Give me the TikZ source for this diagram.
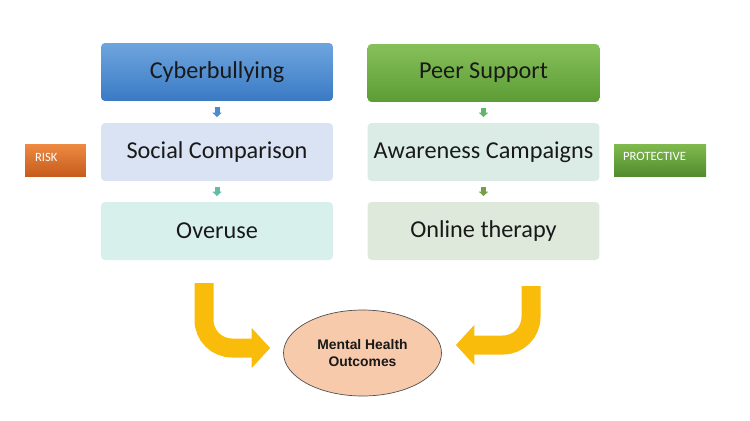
\documentclass[tikz,border=0pt]{standalone}
\usepackage{fontspec}
\setmainfont{Carlito}
\newfontfamily\arialfont{Liberation Sans}
\usetikzlibrary{arrows.meta, positioning, shapes.geometric, calc}

\definecolor{txt}{RGB}{25,25,25}
\definecolor{blueTop}{RGB}{110,165,222}
\definecolor{blueBot}{RGB}{58,122,196}
\definecolor{greenTop}{RGB}{135,192,90}
\definecolor{greenBot}{RGB}{92,156,52}
\definecolor{socialFill}{RGB}{218,227,243}
\definecolor{overuseFill}{RGB}{216,240,236}
\definecolor{awareFill}{RGB}{218,236,229}
\definecolor{onlineFill}{RGB}{222,233,220}
\definecolor{riskTop}{RGB}{238,138,66}
\definecolor{riskBot}{RGB}{198,92,28}
\definecolor{protTop}{RGB}{128,186,78}
\definecolor{protBot}{RGB}{82,140,46}
\definecolor{gold}{RGB}{250,188,10}
\definecolor{peach}{RGB}{247,202,172}

\begin{document}
\begin{tikzpicture}[
    x=0.02cm, y=-0.02cm,
    box/.style={rounded corners=0.08cm, minimum width=4.64cm, minimum height=1.16cm,
                inner sep=0pt, text=txt, font=\fontsize{13.8}{16}\selectfont},
    tag/.style={minimum height=0.64cm, inner sep=0pt},
    tagtext/.style={anchor=west, inner sep=0pt, text=white, font=\fontsize{7.2}{8}\selectfont},
    link/.style={line width=0.1cm, -{Triangle[width=0.18cm,length=0.09cm]},
                 shorten <=0.12cm, shorten >=0.11cm},
    bigarrow/.style={draw=gold, line width=0.38cm, rounded corners=0.56cm,
                     -{Triangle[width=0.78cm,length=0.37cm]}},
]
\useasboundingbox (0,0) rectangle (750,420);

% Risk column
\node[box, top color=blueTop, bottom color=blueBot] (cyber)   at (217,72)  {Cyberbullying};
\node[box, fill=socialFill]                         (social)  at (217,152) {Social Comparison};
\node[box, fill=overuseFill]                        (overuse) at (217,231) {Overuse};

% Protective column
\node[box, top color=greenTop, bottom color=greenBot] (peer)   at (483.5,73)  {Peer Support};
\node[box, fill=awareFill]                            (aware)  at (483.5,152) {Awareness Campaigns};
\node[box, fill=onlineFill]                           (online) at (483.5,231) {Online therapy};

% Side labels
\node[tag, minimum width=1.22cm, top color=riskTop, bottom color=riskBot] (risk) at (55.5,160) {};
\node[tagtext] at ($(risk.west)+(10,-3)$) {RISK};
\node[tag, minimum width=1.84cm, top color=protTop, bottom color=protBot] (prot) at (660,160) {};
\node[tagtext] at ($(prot.west)+(9,-4)$) {PROTECTIVE};

% Small arrows between boxes
\draw[link, draw={rgb,255:red,78;green,138;blue,208}]  (cyber)  -- (social);
\draw[link, draw={rgb,255:red,96;green,190;blue,168}]  (social) -- (overuse);
\draw[link, draw={rgb,255:red,98;green,182;blue,108}]  (peer)   -- (aware);
\draw[link, draw={rgb,255:red,118;green,158;blue,76}]  (aware)  -- (online);

% Outcome
\node[ellipse, draw={rgb,255:red,80;green,80;blue,80}, fill=peach,
      minimum width=3.16cm, minimum height=1.72cm, align=center, text=txt,
      font=\arialfont\bfseries\fontsize{7.9}{10.2}\selectfont] (mho) at (362.5,353)
      {Mental Health\\Outcomes};

% Big bent arrows
\coordinate (lstart) at (204,283);
\coordinate (rstart) at (531,286);
\draw[bigarrow] (lstart) |- ($(mho.west)+(-13,-5)$);
\draw[bigarrow] (rstart) |- ($(mho.east)+(14,-8)$);

\end{tikzpicture}
\end{document}
